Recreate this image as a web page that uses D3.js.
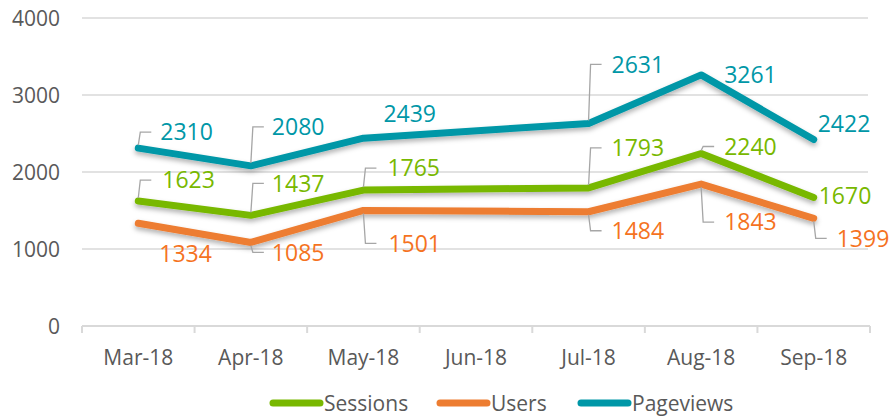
<!DOCTYPE html>
<html>
<head>
<meta charset="utf-8">
<script src="https://cdn.jsdelivr.net/npm/d3@7"></script>
<style>
  html, body { margin: 0; padding: 0; background: #fff; }
  svg text { font-family: "Open Sans", "Noto Sans", sans-serif; }
</style>
</head>
<body>
<div id="chart"></div>
<script>
const months = ['Mar-18', 'Apr-18', 'May-18', 'Jun-18', 'Jul-18', 'Aug-18', 'Sep-18'];
const sessions = [1623, 1437, 1765, null, 1793, 2240, 1670];
const users = [1334, 1085, 1501, null, 1484, 1843, 1399];
const pageviews = [2310, 2080, 2439, null, 2631, 3261, 2422];
const yTicks = [0, 1000, 2000, 3000, 4000];

// label placement: [dx, dy, leader]
const sessionsLabels = [[24, -21, 1], [21, -32, 1], [24, -22, 1], null, [23, -40, 1], [23, -7, 1], [5, -2, 0]];
const usersLabels = [[21, 30, 0], [21, 10, 1], [25, 33, 1], null, [23, 19, 1], [23, 38, 1], [23, 20, 1]];
const pageviewsLabels = [[22, -16, 1], [21, -39, 1], [20, -24, 0], null, [23, -59, 1], [23, 0, 0], [4, -16, 0]];

const width = 891;
const height = 417;

const svg = d3.select('#chart')
  .append('svg')
  .attr('width', width)
  .attr('height', height)

const defs = svg.append('defs')
defs.append('filter')
  .attr('id', 'shadow')
  .attr('x', '-10%').attr('y', '-30%')
  .attr('width', '120%').attr('height', '180%')
  .append('feDropShadow')
  .attr('dx', 0).attr('dy', 3)
  .attr('stdDeviation', 2.5)
  .attr('flood-color', '#000')
  .attr('flood-opacity', 0.3)

const xScale = d3.scaleBand()
  .domain(months)
  .range([82, 870])

const yScale = d3.scaleLinear()
  .domain([0, 4000])
  .range([326, 18])

// gridlines
svg.append('g')
  .selectAll('line')
  .data(yTicks.slice(1))
  .enter()
  .append('line')
  .attr('x1', 82)
  .attr('x2', 868)
  .attr('y1', d => yScale(d))
  .attr('y2', d => yScale(d))
  .attr('stroke', '#D9D9D9')
  .attr('stroke-width', 1.5)

// y labels
svg.append('g')
  .selectAll('text')
  .data(yTicks)
  .enter()
  .append('text')
  .attr('x', 60)
  .attr('y', d => yScale(d))
  .attr('dy', '0.36em')
  .attr('text-anchor', 'end')
  .attr('fill', '#595959')
  .style('font-size', '21px')
  .text(d => d)

// x axis
const xAxis = d3.axisBottom(xScale)
  .tickSize(0)

const gx = svg.append('g')
  .attr('transform', 'translate(0, 326)')
  .call(xAxis)
gx.select('.domain').remove()
gx.selectAll('text')
  .attr('y', 39)
  .attr('dy', 0)
  .attr('fill', '#595959')
  .style('font-size', '21px')

gx.append('line')
  .attr('x1', 82).attr('x2', 870)
  .attr('y1', 0).attr('y2', 0)
  .attr('stroke', '#D9D9D9')
  .attr('stroke-width', 2)

gx.selectAll('.band-tick')
  .data(months.concat(['end']))
  .enter()
  .append('line')
  .attr('x1', (d, i) => i < months.length ? xScale(d) : xScale.range()[1])
  .attr('x2', (d, i) => i < months.length ? xScale(d) : xScale.range()[1])
  .attr('y1', 0).attr('y2', 7)
  .attr('stroke', '#D9D9D9')
  .attr('stroke-width', 2)

const series = [
  { name: 'Sessions', values: sessions, labels: sessionsLabels, color: '#78B800', labelColor: '#78B800' },
  { name: 'Users', values: users, labels: usersLabels, color: '#ED7D31', labelColor: '#F5731F' },
  { name: 'Pageviews', values: pageviews, labels: pageviewsLabels, color: '#0097A7', labelColor: '#0097A7' }
];

const cx = m => xScale(m) + xScale.bandwidth() / 2;

const line = d3.line()
  .x(d => cx(d.month))
  .y(d => yScale(d.value))

series.forEach(s => {
  const pts = months.map((m, i) => ({ month: m, value: s.values[i], label: s.labels[i] }))
    .filter(d => d.value !== null)

  svg.append('path')
    .datum(pts)
    .attr('d', line)
    .attr('fill', 'none')
    .attr('stroke', s.color)
    .attr('stroke-width', 7)
    .attr('stroke-linecap', 'round')
    .attr('stroke-linejoin', 'round')
    .attr('filter', 'url(#shadow)')
})

series.forEach(s => {
  const pts = months.map((m, i) => ({ month: m, value: s.values[i], label: s.labels[i] }))
    .filter(d => d.value !== null)

  const g = svg.append('g')

  g.selectAll('path')
    .data(pts.filter(d => d.label[2]))
    .enter()
    .append('path')
    .attr('d', d => {
      const x = cx(d.month), y = yScale(d.value);
      const ty = y + d.label[1];
      const sy = d.label[1] < 0 ? y - 3 : y + 3;
      return `M${x},${sy}L${x + 2},${ty}L${x + 13},${ty}`;
    })
    .attr('fill', 'none')
    .attr('stroke', '#A6A6A6')
    .attr('stroke-width', 1.3)

  g.selectAll('text')
    .data(pts)
    .enter()
    .append('text')
    .attr('x', d => cx(d.month) + d.label[0])
    .attr('y', d => yScale(d.value) + d.label[1])
    .attr('dy', '0.36em')
    .attr('fill', s.labelColor)
    .style('font-size', '23px')
    .text(d => d.value)
})

// legend
const legendX = [270, 437, 578];
const legend = svg.append('g')
  .selectAll('g')
  .data(series)
  .enter()
  .append('g')
  .attr('transform', (d, i) => `translate(${legendX[i]}, 403)`)

legend.append('line')
  .attr('x1', 3).attr('x2', 50)
  .attr('y1', 0).attr('y2', 0)
  .attr('stroke', d => d.color)
  .attr('stroke-width', 7)
  .attr('stroke-linecap', 'round')

legend.append('text')
  .attr('x', 54)
  .attr('y', 0)
  .attr('dy', '0.36em')
  .attr('fill', '#595959')
  .style('font-size', '21px')
  .text(d => d.name)
</script>
</body>
</html>
